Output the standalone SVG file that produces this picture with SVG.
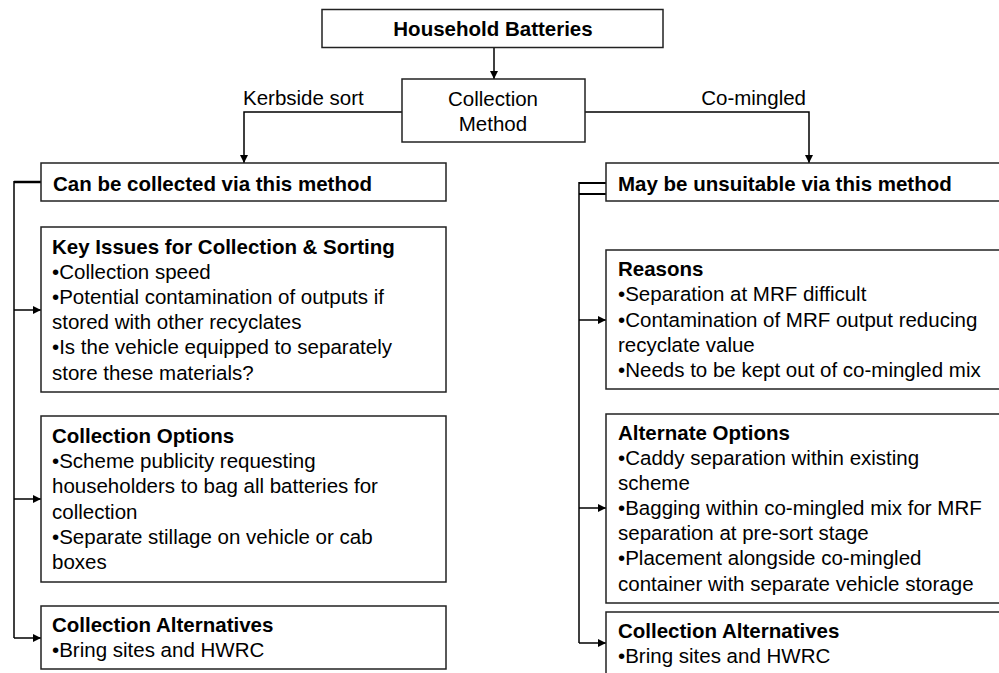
<svg xmlns="http://www.w3.org/2000/svg" width="999" height="673" viewBox="0 0 999 673">
<defs>
<style>
.box{fill:#fff;stroke:#222;stroke-width:1.5}
text{font-family:"Liberation Sans",Arial,sans-serif;font-size:20.5px;fill:#000}
.b{font-weight:bold}
.c{text-anchor:middle}
.ln{fill:none;stroke:#000;stroke-width:1.5}
</style>
<marker id="ah" viewBox="0 0 10 10" refX="10" refY="5" markerWidth="8" markerHeight="8" markerUnits="userSpaceOnUse" orient="auto">
<path d="M0,0 L10,5 L0,10 z" fill="#000"/>
</marker>
</defs>
<rect width="999" height="673" fill="#fff"/>
<g id="connectors">
<line class="ln" x1="494" y1="47" x2="494" y2="79" marker-end="url(#ah)"/>
<polyline class="ln" points="402,112 244,112 244,163" marker-end="url(#ah)"/>
<polyline class="ln" points="585,112 809,112 809,163" marker-end="url(#ah)"/>
<line x1="14" y1="182" x2="41" y2="182" stroke="#000" stroke-width="2.5"/>
<line class="ln" x1="14" y1="181" x2="14" y2="638"/>
<line class="ln" x1="14" y1="310" x2="41" y2="310" marker-end="url(#ah)"/>
<line class="ln" x1="14" y1="499" x2="41" y2="499" marker-end="url(#ah)"/>
<line class="ln" x1="14" y1="638" x2="41" y2="638" marker-end="url(#ah)" stroke-width="2"/>
<line x1="579" y1="183" x2="606" y2="183" stroke="#000" stroke-width="2"/>
<line x1="579" y1="194" x2="606" y2="194" stroke="#000" stroke-width="2"/>
<line class="ln" x1="579" y1="182" x2="579" y2="643" stroke-width="2"/>
<line class="ln" x1="579" y1="320" x2="606" y2="320" marker-end="url(#ah)"/>
<line class="ln" x1="579" y1="508" x2="606" y2="508" marker-end="url(#ah)" stroke-width="2"/>
<line class="ln" x1="579" y1="643" x2="606" y2="643" marker-end="url(#ah)" stroke-width="2"/>
<text x="243" y="105">Kerbside sort</text>
<text x="806" y="105" text-anchor="end">Co-mingled</text>
</g>
<g id="household">
<rect class="box" x="322" y="9.5" width="341" height="38"/>
<text class="b c" x="493" y="36">Household Batteries</text>
</g>
<g id="method">
<rect class="box" x="402" y="79" width="183" height="63"/>
<text class="c" x="493" y="106">Collection</text>
<text class="c" x="493" y="131">Method</text>
</g>
<g id="can">
<rect class="box" x="41" y="163" width="405" height="38"/>
<text class="b" x="53" y="191">Can be collected via this method</text>
</g>
<g id="keyissues">
<rect class="box" x="41" y="227" width="405" height="165"/>
<text class="b" x="52" y="254">Key Issues for Collection &amp; Sorting</text>
<text x="52" y="279">•Collection speed</text>
<text x="52" y="304">•Potential contamination of outputs if</text>
<text x="52" y="329">stored with other recyclates</text>
<text x="52" y="354">•Is the vehicle equipped to separately</text>
<text x="52" y="380">store these materials?</text>
</g>
<g id="options">
<rect class="box" x="41" y="416" width="405" height="166"/>
<text class="b" x="52" y="443">Collection Options</text>
<text x="52" y="468">•Scheme publicity requesting</text>
<text x="52" y="493">householders to bag all batteries for</text>
<text x="52" y="519">collection</text>
<text x="52" y="544">•Separate stillage on vehicle or cab</text>
<text x="52" y="569">boxes</text>
</g>
<g id="altleft">
<rect class="box" x="41" y="606" width="405" height="63"/>
<text class="b" x="52" y="632">Collection Alternatives</text>
<text x="52" y="657">•Bring sites and HWRC</text>
</g>
<g id="unsuitable">
<rect class="box" x="606" y="163" width="410" height="38"/>
<text class="b" x="618" y="191">May be unsuitable via this method</text>
</g>
<g id="reasons">
<rect class="box" x="606" y="250" width="410" height="139"/>
<text class="b" x="618" y="276">Reasons</text>
<text x="618" y="301">•Separation at MRF difficult</text>
<text x="618" y="327">•Contamination of MRF output reducing</text>
<text x="618" y="352">recyclate value</text>
<text x="618" y="377">•Needs to be kept out of co-mingled mix</text>
</g>
<g id="alternate">
<rect class="box" x="606" y="414" width="410" height="189"/>
<text class="b" x="618" y="440">Alternate Options</text>
<text x="618" y="465">•Caddy separation within existing</text>
<text x="618" y="490">scheme</text>
<text x="618" y="515">•Bagging within co-mingled mix for MRF</text>
<text x="618" y="540">separation at pre-sort stage</text>
<text x="618" y="565">•Placement alongside co-mingled</text>
<text x="618" y="591">container with separate vehicle storage</text>
</g>
<g id="altright">
<rect class="box" x="606" y="612" width="410" height="80"/>
<text class="b" x="618" y="638">Collection Alternatives</text>
<text x="618" y="663">•Bring sites and HWRC</text>
</g>
</svg>
